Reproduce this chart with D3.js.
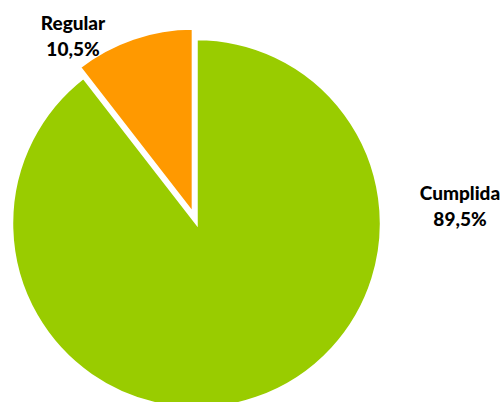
<!DOCTYPE html>
<html><head><meta charset="utf-8">
<script src="https://cdn.jsdelivr.net/npm/d3@7"></script>
<style>body{margin:0;background:#fff}svg{display:block}</style>
</head><body>
<svg id="c" width="504" height="402"></svg>
<script>
const categories = ["Cumplida", "Regular"];
const values = [89.5, 10.5];
const valueLabels = ["89,5%", "10,5%"];
const colors = ["#99CC00", "#FF9900"];
const explode = [0, 11];

const svg = d3.select("#c");
const cx = 196.5, cy = 223.5, r = 184.5;
const g = svg.append("g").attr("transform", `translate(${cx},${cy})`);
const pie = d3.pie().sort(null).value(d => d)(values);
const arc = d3.arc().innerRadius(0).outerRadius(r);

g.selectAll("path").data(pie).join("path")
  .attr("transform", (d, i) => {
    const a = (d.startAngle + d.endAngle) / 2;
    return `translate(${Math.sin(a) * explode[i]},${-Math.cos(a) * explode[i]})`;
  })
  .attr("d", arc)
  .attr("fill", (d, i) => colors[i])
  .attr("stroke", "#fff").attr("stroke-width", 2.5).attr("stroke-linejoin", "miter");

const labelPos = [[460, 200], [73, 30]];
categories.forEach((c, i) => {
  const t = svg.append("text")
    .attr("x", labelPos[i][0]).attr("y", labelPos[i][1])
    .attr("text-anchor", "middle")
    .style("font-family", "Lato, 'Open Sans', sans-serif")
    .style("font-weight", "900").style("font-size", "19px").attr("fill", "#000");
  t.append("tspan").attr("x", labelPos[i][0]).text(c);
  t.append("tspan").attr("x", labelPos[i][0]).attr("dy", 26).text(valueLabels[i]);
});
</script>
</body></html>
